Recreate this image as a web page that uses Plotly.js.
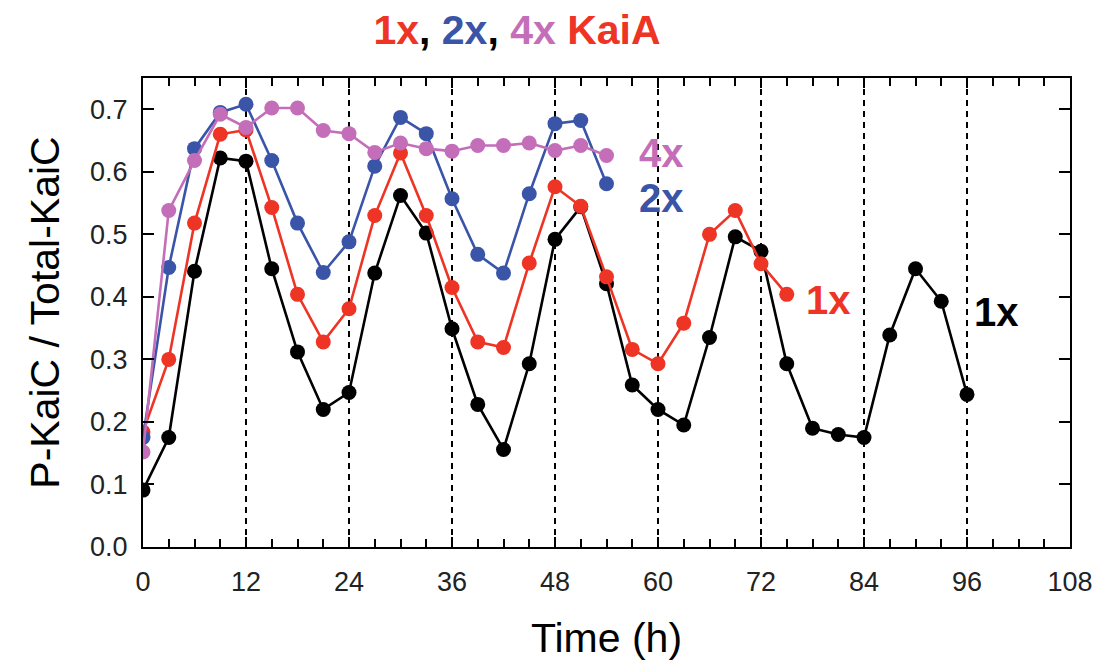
<!DOCTYPE html>
<html>
<head>
<meta charset="utf-8">
<script src="https://cdn.plot.ly/plotly-3.0.1.min.js"></script>
<style>html,body{margin:0;padding:0;background:#fff;}#chart{width:1100px;height:661px;}</style>
</head>
<body>
<div id="chart"></div>
<script>
// Time points (h)
const time1xBlack = [0,3,6,9,12,15,18,21,24,27,30,33,36,39,42,45,48,51,54,57,60,63,66,69,72,75,78,81,84,87,90,93,96];
const value1xBlack = [0.091,0.175,0.441,0.622,0.617,0.445,0.312,0.220,0.247,0.438,0.562,0.502,0.349,0.228,0.156,0.293,0.492,0.544,0.421,0.259,0.220,0.195,0.335,0.496,0.473,0.293,0.190,0.180,0.175,0.339,0.445,0.393,0.244];

const time1xRed = [0,3,6,9,12,15,18,21,24,27,30,33,36,39,42,45,48,51,54,57,60,63,66,69,72,75];
const value1xRed = [0.184,0.300,0.518,0.660,0.667,0.543,0.404,0.328,0.381,0.530,0.630,0.530,0.415,0.328,0.319,0.454,0.576,0.545,0.432,0.316,0.293,0.358,0.500,0.538,0.453,0.404];

const time2x = [0,3,6,9,12,15,18,21,24,27,30,33,36,39,42,45,48,51,54];
const value2x = [0.175,0.447,0.637,0.695,0.708,0.618,0.518,0.439,0.488,0.609,0.687,0.661,0.557,0.468,0.438,0.565,0.677,0.682,0.581];

const time4x = [0,3,6,9,12,15,18,21,24,27,30,33,36,39,42,45,48,51,54];
const value4x = [0.152,0.538,0.618,0.692,0.671,0.702,0.702,0.666,0.661,0.631,0.646,0.637,0.633,0.642,0.642,0.646,0.634,0.642,0.626];

const seriesLabels = ['1x', '1x', '2x', '4x'];

const cBlack = '#000000', cRed = '#ee3424', cBlue = '#3a55a8', cPink = '#c46eb9';
const FONT = 'Liberation Sans, Arial, Helvetica, sans-serif';

function trace(x, y, color) {
  return {
    x: x, y: y, type: 'scatter', mode: 'lines+markers',
    line: {color: color, width: 2.6},
    marker: {color: color, size: 15},
    showlegend: false, hoverinfo: 'skip'
  };
}

const data = [
  trace(time1xBlack, value1xBlack, cBlack),
  trace(time1xRed, value1xRed, cRed),
  trace(time2x, value2x, cBlue),
  trace(time4x, value4x, cPink)
];

function endLabel(xs, ys, text, color, xshift, yshift) {
  return {
    x: xs[xs.length - 1], y: ys[ys.length - 1], xref: 'x', yref: 'y',
    text: '<b>' + text + '</b>', showarrow: false,
    xanchor: 'left', yanchor: 'middle', xshift: xshift, yshift: yshift,
    font: {family: FONT, size: 40, color: color}
  };
}

const layout = {
  width: 1100, height: 661,
  margin: {l: 143, r: 30, t: 78, b: 114},
  paper_bgcolor: '#ffffff', plot_bgcolor: '#ffffff',
  title: {
    text: '<b><span style="color:' + cRed + '">1x</span>, <span style="color:' + cBlue + '">2x</span>, <span style="color:' + cPink + '">4x</span> <span style="color:' + cRed + '">KaiA</span></b>',
    font: {family: FONT, size: 41, color: '#000'},
    x: 0.47, xref: 'container', xanchor: 'center',
    y: 0.955, yref: 'container', yanchor: 'middle'
  },
  xaxis: {
    range: [0, 108],
    tickmode: 'linear', tick0: 0, dtick: 12,
    ticks: 'inside', ticklen: 10, tickwidth: 2, tickcolor: '#000',
    minor: {tickmode: 'linear', tick0: 0, dtick: 3, ticks: 'inside', ticklen: 8, tickwidth: 2, tickcolor: '#000', showgrid: false},
    showline: true, linecolor: '#000', linewidth: 2, mirror: 'allticks',
    showgrid: true, gridcolor: '#000', gridwidth: 1.5, griddash: '6px,5px',
    zeroline: false,
    tickfont: {family: FONT, size: 27, color: '#222'},
    ticklabelstandoff: 10,
    title: {text: 'Time (h)', font: {family: FONT, size: 41, color: '#000'}, standoff: 28}
  },
  yaxis: {
    range: [0, 0.75],
    tickmode: 'linear', dtick: 0.1, tick0: 0, tickformat: '.1f',
    ticks: 'inside', ticklen: 11, tickwidth: 2, tickcolor: '#000',
    showline: true, linecolor: '#000', linewidth: 2, mirror: 'allticks',
    showgrid: false, zeroline: false,
    tickfont: {family: FONT, size: 27, color: '#222'},
    ticklabelstandoff: 8,
    title: {text: 'P-KaiC / Total-KaiC', font: {family: FONT, size: 41, color: '#000'}, standoff: 18}
  },
  annotations: [
    endLabel(time4x, value4x, seriesLabels[3], cPink, 30, 3),
    endLabel(time2x, value2x, seriesLabels[2], cBlue, 30, -14),
    endLabel(time1xRed, value1xRed, seriesLabels[1], cRed, 17, -6),
    endLabel(time1xBlack, value1xBlack, seriesLabels[0], cBlack, 5, 82)
  ]
};

Plotly.newPlot('chart', data, layout, {displayModeBar: false, staticPlot: true});
</script>
</body>
</html>
